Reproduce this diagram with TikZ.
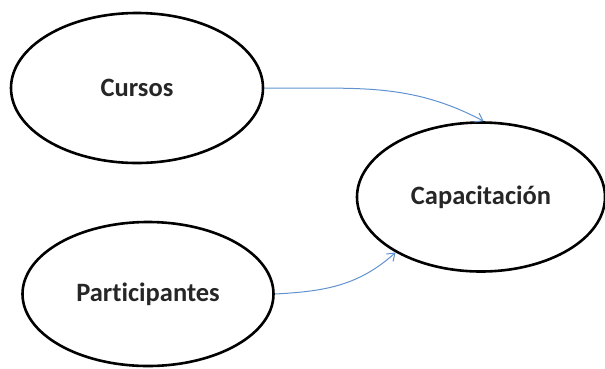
\documentclass[tikz,border=0pt]{standalone}
\usepackage{fontspec}
\setmainfont[Ligatures=NoCommon]{Carlito}
\usetikzlibrary{shapes.geometric,arrows.meta}
\definecolor{linkblue}{RGB}{96,146,206}
\tikzset{
  entity/.style={ellipse, draw=black, line width=2.6pt, inner sep=0pt,
    font=\fontsize{26.5}{31}\selectfont\bfseries, text=black!85},
  link/.style={draw=linkblue, line width=1pt,
    -{Straight Barb[length=7pt,width=10pt,line width=1pt]}}
}
\begin{document}
\begin{tikzpicture}[x=1pt,y=-1pt]
  \useasboundingbox (0,0) rectangle (605,368);
  \node[entity, minimum width=252pt, minimum height=150pt] (cursos) at (137,88) {Cursos};
  \node[entity, minimum width=251pt, minimum height=144pt] (part) at (148,294) {Participantes};
  \node[entity, minimum width=248pt, minimum height=149pt] (capac) at (481,197) {Capacitación};
  \draw[link] (cursos.east) to[out=-1, in=152] (capac.88);
  \draw[link] (part.east) to[out=3, in=222] (capac.213);
\end{tikzpicture}
\end{document}
